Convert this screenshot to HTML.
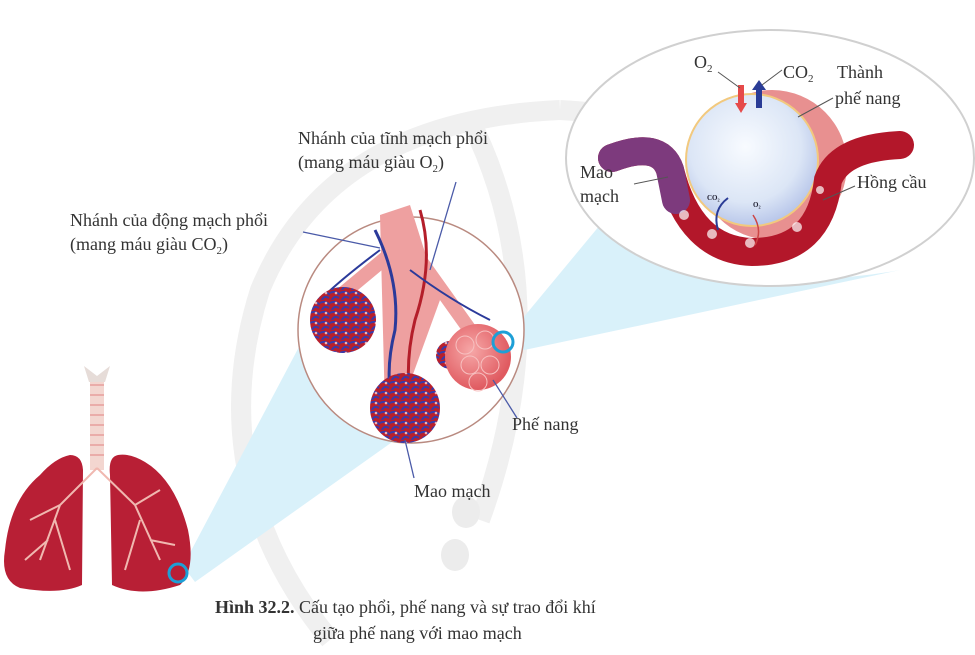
<!DOCTYPE html>
<html><head><meta charset="utf-8"><style>
html,body{margin:0;padding:0;background:#fff;}
svg{display:block;}
text{font-family:"Liberation Serif","DejaVu Serif",serif;fill:#333;}
</style></head><body>
<svg width="975" height="655" viewBox="0 0 975 655" xmlns="http://www.w3.org/2000/svg">
<defs>
<radialGradient id="sph" cx="45%" cy="40%" r="60%"><stop offset="0" stop-color="#f8fbff"/><stop offset="0.7" stop-color="#dce6f6"/><stop offset="1" stop-color="#b9c7ea"/></radialGradient>
<radialGradient id="alv" cx="40%" cy="40%" r="60%"><stop offset="0" stop-color="#f6a7a7"/><stop offset="1" stop-color="#e05a60"/></radialGradient>
<pattern id="cap" width="10" height="10" patternUnits="userSpaceOnUse"><rect width="10" height="10" fill="#b8202c"/><path d="M0 3 Q5 0 10 5 M2 10 Q4 5 9 8" stroke="#3a3aa8" stroke-width="2" fill="none"/><circle cx="6" cy="3" r="1.3" fill="#f3b0b0"/></pattern>
</defs>
<!-- watermark -->
<g fill="none" stroke="#f0f0f0" stroke-width="20">
<path d="M330 640 Q200 480 260 290 Q330 120 560 110"/>
<path d="M470 120 Q560 300 480 520"/>
<path d="M560 110 Q760 120 820 260"/>
</g>
<ellipse cx="466" cy="512" rx="14" ry="16" fill="#ececec"/>
<ellipse cx="455" cy="555" rx="14" ry="16" fill="#ececec"/>
<!-- beams -->
<path d="M183 566 L300 345 Q330 430 395 440 L195 582 Z" fill="#d9f1fa"/>
<path d="M508 336 L600 225 Q740 300 900 270 L515 352 Z" fill="#d9f1fa"/>
<!-- ellipse -->
<ellipse cx="770" cy="158" rx="204" ry="128" fill="#fff" stroke="#d0d0d0" stroke-width="2"/>
<!-- alveolus -->
<circle cx="772" cy="165" r="75" fill="#e89090"/>
<circle cx="752" cy="160" r="66" fill="url(#sph)" stroke="#f2c97e" stroke-width="2"/>
<!-- capillary -->
<path d="M612 158 Q660 140 670 170 Q690 250 752 252 Q820 252 828 180 Q840 148 900 145" fill="none" stroke="#b3172a" stroke-width="28" stroke-linecap="round"/>
<path d="M612 158 Q660 140 670 170 L676 200" fill="none" stroke="#7d3a7d" stroke-width="28" stroke-linecap="round"/>
<g fill="#fff" opacity="0.7"><circle cx="684" cy="215" r="5"/><circle cx="712" cy="234" r="5"/><circle cx="750" cy="243" r="5"/><circle cx="797" cy="227" r="5"/><circle cx="820" cy="190" r="4"/></g>
<path d="M741 85 v20" stroke="#e64a4a" stroke-width="6"/><path d="M735 103 l6 10 l6 -10z" fill="#e64a4a"/>
<path d="M759 108 v-20" stroke="#2a3c96" stroke-width="6"/><path d="M752 90 l7 -10 l7 10z" fill="#2a3c96"/>
<path d="M718 230 q-6 -20 10 -32" stroke="#2a3c96" stroke-width="2" fill="none"/>
<path d="M755 245 q8 -15 -2 -30" stroke="#c44" stroke-width="1.5" fill="none"/>
<text x="707" y="200" font-size="7" font-weight="bold" style="fill:#223">CO₂</text>
<text x="753" y="207" font-size="7" font-weight="bold" style="fill:#223">O₂</text>
<g stroke="#555" stroke-width="1"><line x1="718" y1="72" x2="740" y2="88"/><line x1="782" y1="70" x2="762" y2="85"/><line x1="833" y1="98" x2="798" y2="117"/><line x1="634" y1="184" x2="668" y2="177"/><line x1="855" y1="186" x2="823" y2="200"/></g>
<text x="694" y="68" font-size="18">O<tspan font-size="11" dy="4">2</tspan></text>
<text x="783" y="78" font-size="18">CO<tspan font-size="11" dy="4">2</tspan></text>
<text x="837" y="78" font-size="18">Thành</text>
<text x="835" y="104" font-size="18">phế nang</text>
<text x="580" y="178" font-size="18">Mao</text>
<text x="580" y="202" font-size="18">mạch</text>
<text x="857" y="188" font-size="18">Hồng cầu</text>
<!-- big circle -->
<circle cx="411" cy="330" r="113" fill="#fff" stroke="#b98a80" stroke-width="1.5"/>
<path d="M380 215 L410 205 L440 300 L400 410 L385 410 Z" fill="#eea0a0"/>
<path d="M395 250 L335 300 M420 260 L470 330" stroke="#eea0a0" stroke-width="14"/>
<path d="M375 230 Q400 280 395 330 Q385 370 392 400" stroke="#2b3a9a" stroke-width="3" fill="none"/>
<path d="M420 210 Q435 260 415 320 Q405 360 410 400" stroke="#b41e2a" stroke-width="3" fill="none"/>
<path d="M380 250 Q340 280 320 300 M410 270 Q450 300 490 320" stroke="#2b3a9a" stroke-width="2" fill="none"/>
<circle cx="343" cy="320" r="33" fill="url(#cap)"/>
<circle cx="405" cy="408" r="35" fill="url(#cap)"/>
<circle cx="450" cy="355" r="14" fill="url(#cap)"/>
<circle cx="478" cy="357" r="33" fill="url(#alv)"/>
<g fill="none" stroke="#f7c0c0" stroke-width="1"><circle cx="465" cy="345" r="9"/><circle cx="485" cy="340" r="9"/><circle cx="470" cy="365" r="9"/><circle cx="490" cy="365" r="9"/><circle cx="478" cy="382" r="9"/></g>
<circle cx="503" cy="342" r="10" fill="none" stroke="#1e9fd6" stroke-width="3"/>
<g stroke="#4a5aa8" stroke-width="1.3"><line x1="303" y1="232" x2="380" y2="248"/><line x1="456" y1="182" x2="430" y2="270"/><line x1="493" y1="380" x2="517" y2="418"/><line x1="405" y1="440" x2="414" y2="478"/></g>
<text x="298" y="144" font-size="18">Nhánh của tĩnh mạch phổi</text>
<text x="298" y="168" font-size="18">(mang máu giàu O<tspan font-size="11" dy="4">2</tspan><tspan dy="-4">)</tspan></text>
<text x="70" y="226" font-size="18">Nhánh của động mạch phổi</text>
<text x="70" y="250" font-size="18">(mang máu giàu CO<tspan font-size="11" dy="4">2</tspan><tspan dy="-4">)</tspan></text>
<text x="512" y="430" font-size="18">Phế nang</text>
<text x="414" y="497" font-size="18">Mao mạch</text>
<!-- lungs -->
<rect x="90" y="378" width="14" height="92" fill="#f3d6d0"/>
<g stroke="#e58f8f" stroke-width="1.2"><line x1="90" y1="385" x2="104" y2="385"/><line x1="90" y1="395" x2="104" y2="395"/><line x1="90" y1="405" x2="104" y2="405"/><line x1="90" y1="415" x2="104" y2="415"/><line x1="90" y1="425" x2="104" y2="425"/><line x1="90" y1="435" x2="104" y2="435"/><line x1="90" y1="445" x2="104" y2="445"/><line x1="90" y1="455" x2="104" y2="455"/></g>
<path d="M84 366 l13 10 l13 -10 l-5 16 h-16z" fill="#e6dcd8"/>
<path d="M70 455 Q82 455 83 470 L82 585 Q60 595 20 588 Q0 580 5 550 Q10 500 40 475 Q55 458 70 455Z" fill="#b81f35"/>
<path d="M118 455 Q108 457 110 475 L112 585 Q140 598 180 585 Q196 570 188 530 Q175 480 145 462 Q130 453 118 455Z" fill="#b81f35"/>
<g stroke="#f0b8b0" stroke-width="2" fill="none"><path d="M97 468 L60 505 L40 560 M60 505 L30 520 M55 520 L70 570 M48 540 L25 560"/><path d="M97 468 L135 505 L160 560 M135 505 L160 490 M140 520 L125 570 M150 540 L175 545"/></g>
<circle cx="178" cy="573" r="9" fill="none" stroke="#1e9fd6" stroke-width="3"/>
<text x="215" y="613" font-size="18"><tspan font-weight="bold">Hình 32.2.</tspan> Cấu tạo phổi, phế nang và sự trao đổi khí</text>
<text x="313" y="639" font-size="18">giữa phế nang với mao mạch</text>
</svg>
</body></html>
